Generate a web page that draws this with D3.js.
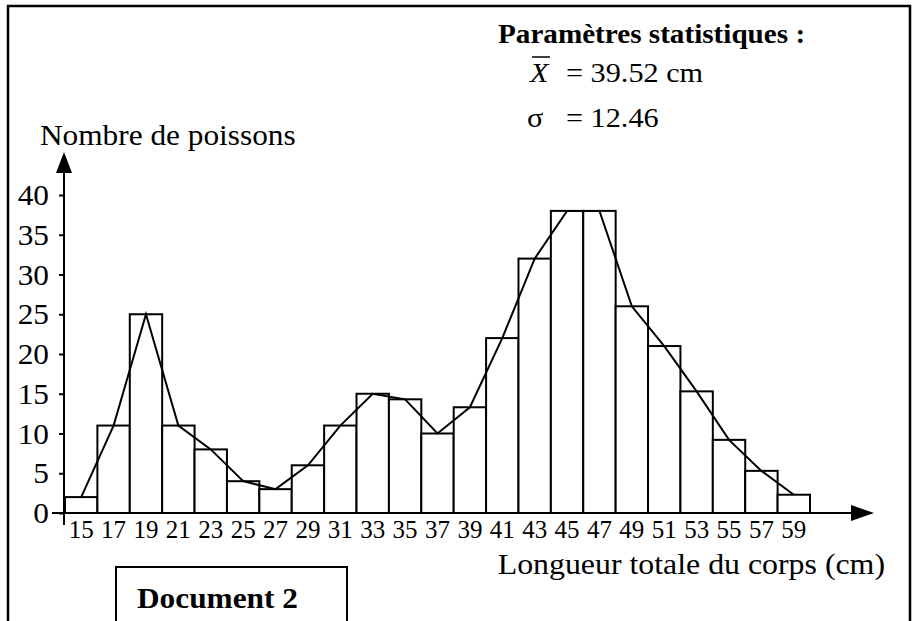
<!DOCTYPE html>
<html>
<head>
<meta charset="utf-8">
<script src="https://cdn.jsdelivr.net/npm/d3@7"></script>
<style>
    body { margin: 0; background: #fff; }
    svg text { font-family: "Liberation Serif", "Times New Roman", serif; fill: #000; }
</style>
</head>
<body>
<svg id="chart" width="915" height="621"></svg>
<script>
// class centres (cm) and number of fish per class
var lengths = [15, 17, 19, 21, 23, 25, 27, 29, 31, 33, 35, 37, 39, 41, 43, 45, 47, 49, 51, 53, 55, 57, 59];
var counts = [2, 11, 25, 11, 8, 4, 3, 6, 11, 15, 14.3, 10, 13.3, 22, 32, 38, 38, 26, 21, 15.3, 9.2, 5.3, 2.3];
var yTicks = [0, 5, 10, 15, 20, 25, 30, 35, 40];

var statsTitle = 'Paramètres statistiques :';
var meanText = '= 39.52 cm';
var sigmaText = '= 12.46';
var yTitle = 'Nombre de poissons';
var xTitle = 'Longueur totale du corps (cm)';
var docTitle = 'Document 2';

var TEXT_SX = 1.08; // the scan is a bit wider than tall

var svg = d3.select('#chart');

var x = d3.scaleBand().domain(lengths).range([65, 810]).padding(0);
var y = d3.scaleLinear().domain([0, 40]).range([513, 195]);

function label(str, px, py, size, opts) {
    opts = opts || {};
    var g = svg.append('g')
        .attr('transform', 'translate(' + px + ',' + py + ') scale(' + TEXT_SX + ',1)');
    return g.append('text')
        .attr('font-size', size)
        .attr('font-weight', opts.bold ? 'bold' : null)
        .attr('font-style', opts.italic ? 'italic' : null)
        .attr('text-anchor', opts.anchor || 'start')
        .text(str);
}

// outer frame (open at the bottom)
svg.append('path')
    .attr('d', 'M8,621V6H910V621')
    .attr('fill', 'none')
    .attr('stroke', '#000')
    .attr('stroke-width', 2.5);

// bars
var data = lengths.map(function(l, i) { return { len: l, n: counts[i] }; });

svg.append('g').selectAll('rect')
    .data(data)
    .enter().append('rect')
    .attr('x', function(d) { return x(d.len); })
    .attr('y', function(d) { return y(d.n); })
    .attr('width', x.bandwidth())
    .attr('height', function(d) { return y(0) - y(d.n); })
    .attr('fill', '#fff')
    .attr('stroke', '#000')
    .attr('stroke-width', 2);

// frequency polygon
var line = d3.line()
    .x(function(d) { return x(d.len) + x.bandwidth() / 2; })
    .y(function(d) { return y(d.n); });

svg.append('path')
    .datum(data)
    .attr('d', line)
    .attr('fill', 'none')
    .attr('stroke', '#000')
    .attr('stroke-width', 2);

// y axis
var yAxis = svg.append('g')
    .attr('transform', 'translate(64,0)')
    .call(d3.axisLeft(y).tickValues(yTicks).tickSize(5).tickSizeOuter(0));
yAxis.select('.domain').remove();
yAxis.selectAll('.tick line').attr('stroke', '#000').attr('stroke-width', 2);
yAxis.selectAll('.tick text')
    .attr('x', -15 / TEXT_SX)
    .attr('dy', '0.33em')
    .attr('font-size', 29)
    .attr('transform', 'scale(' + TEXT_SX + ',1)');

// x axis labels
var xAxis = svg.append('g')
    .attr('transform', 'translate(0,513)')
    .call(d3.axisBottom(x).tickSize(0));
xAxis.select('.domain').remove();
xAxis.selectAll('.tick text')
    .attr('y', 25)
    .attr('dy', 0)
    .attr('font-size', 25);

// axis lines and arrow heads
svg.append('line')
    .attr('x1', 64).attr('y1', 525).attr('x2', 64).attr('y2', 168)
    .attr('stroke', '#000').attr('stroke-width', 2);
svg.append('path')
    .attr('d', 'M64,152L56,173L72,173Z')
    .attr('fill', '#000');

svg.append('line')
    .attr('x1', 52).attr('y1', 513).attr('x2', 858).attr('y2', 513)
    .attr('stroke', '#000').attr('stroke-width', 2);
svg.append('path')
    .attr('d', 'M874,513L851,505L851,521Z')
    .attr('fill', '#000');

// titles
label(yTitle, 40, 145, 29);
label(xTitle, 885, 574, 29.5, { anchor: 'end' });

// statistics block
label(statsTitle, 498, 43, 27, { bold: true });
label('X', 530, 82, 28, { italic: true });
svg.append('line')
    .attr('x1', 532).attr('y1', 57).attr('x2', 550).attr('y2', 57)
    .attr('stroke', '#000').attr('stroke-width', 1.5);
label(meanText, 566, 82, 28);
label('σ', 527, 127, 28);
label(sigmaText, 566, 127, 28);

// document box
svg.append('path')
    .attr('d', 'M116,621V567H347V621')
    .attr('fill', 'none')
    .attr('stroke', '#000')
    .attr('stroke-width', 2);
label(docTitle, 137, 608, 29, { bold: true });
</script>
</body>
</html>
